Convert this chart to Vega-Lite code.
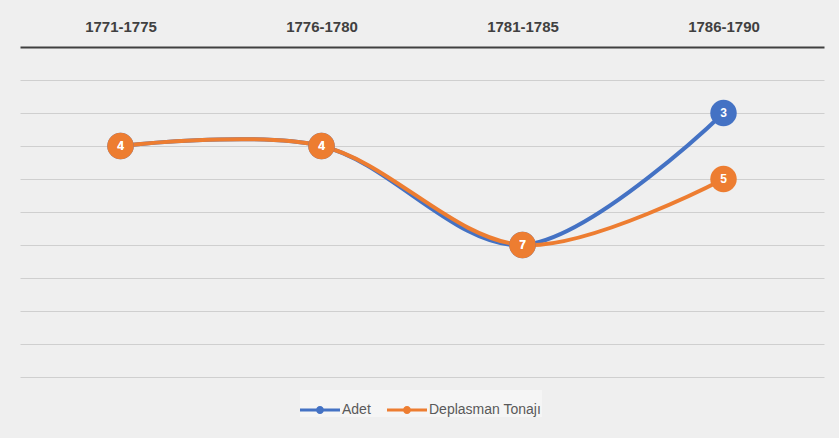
{
  "$schema": "https://vega.github.io/schema/vega-lite/v6.json",
  "width": 804,
  "height": 330,
  "autosize": {"type": "none"},
  "padding": {"left": 20, "top": 47, "right": 15, "bottom": 61},
  "background": "#efefef",
  "config": {
    "view": {"stroke": null},
    "font": "Liberation Sans"
  },
  "data": {
    "values": [
      {"period": "1771-1775", "series": "Adet", "value": 4},
      {"period": "1776-1780", "series": "Adet", "value": 4},
      {"period": "1781-1785", "series": "Adet", "value": 7},
      {"period": "1786-1790", "series": "Adet", "value": 3},
      {"period": "1771-1775", "series": "Deplasman Tonajı", "value": 4},
      {"period": "1776-1780", "series": "Deplasman Tonajı", "value": 4},
      {"period": "1781-1785", "series": "Deplasman Tonajı", "value": 7},
      {"period": "1786-1790", "series": "Deplasman Tonajı", "value": 5}
    ]
  },
  "encoding": {
    "x": {
      "field": "period",
      "type": "ordinal",
      "sort": null,
      "scale": {"paddingInner": 0, "paddingOuter": 0},
      "axis": {
        "orient": "top",
        "title": null,
        "labelAngle": 0,
        "ticks": false,
        "domainColor": "#404040",
        "domainWidth": 2,
        "labelFont": "Liberation Sans",
        "labelFontWeight": "bold",
        "labelFontSize": 15,
        "labelColor": "#404040",
        "labelPadding": 13
      }
    },
    "y": {
      "field": "value",
      "type": "quantitative",
      "scale": {"domain": [1, 11], "reverse": true, "nice": false, "zero": false},
      "axis": {
        "title": null,
        "labels": false,
        "ticks": false,
        "domain": false,
        "grid": true,
        "gridColor": "#cfcfcf",
        "gridWidth": 1,
        "values": [2, 3, 4, 5, 6, 7, 8, 9, 10, 11]
      }
    },
    "color": {
      "field": "series",
      "type": "nominal",
      "scale": {"domain": ["Adet", "Deplasman Tonajı"], "range": ["#4472C4", "#ED7D31"]},
      "legend": {
        "title": null,
        "orient": "none",
        "direction": "horizontal",
        "legendX": 280,
        "legendY": 343,
        "symbolType": "M -1 -0.07 L 1 -0.07 L 1 0.07 L -1 0.07 Z M 0 -0.2 A 0.2 0.2 0 1 1 0 0.2 A 0.2 0.2 0 1 1 0 -0.2 Z",
        "symbolSize": 1600,
        "symbolStrokeWidth": 0,
        "labelFont": "Liberation Sans",
        "labelFontSize": 14,
        "labelColor": "#595959",
        "labelOffset": 2,
        "columnPadding": 16,
        "padding": 0,
        "fillColor": "#f5f5f5"
      }
    }
  },
  "layer": [
    {
      "mark": {"type": "line", "strokeWidth": 4, "interpolate": "catmull-rom"}
    },
    {
      "mark": {"type": "point", "shape": "circle", "filled": true, "opacity": 1, "size": 700}
    },
    {
      "mark": {"type": "text", "color": "white", "fontWeight": "bold", "fontSize": 12, "baseline": "middle", "align": "center"},
      "encoding": {
        "text": {"field": "value", "type": "quantitative"},
        "color": {"value": "white"}
      }
    }
  ]
}
